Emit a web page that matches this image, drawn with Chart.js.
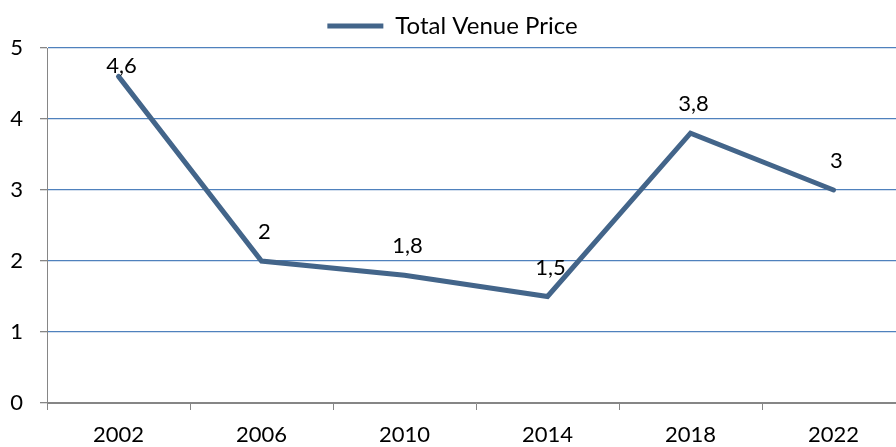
<!DOCTYPE html>
<html>
<head>
<meta charset="utf-8">
<script src="https://cdn.jsdelivr.net/npm/chart.js@4/dist/chart.umd.min.js"></script>
<style>
  html, body { margin: 0; padding: 0; background: #fff; overflow: hidden; }
  #wrap { width: 896px; height: 447px; overflow: hidden; }
</style>
</head>
<body>
<div id="wrap"><canvas id="venueChart" width="905" height="447"></canvas></div>
<script>
// Dữ liệu
const years = ['2002', '2006', '2010', '2014', '2018', '2022'];
const venuePrice = [4.6, 2, 1.8, 1.5, 3.8, 3];
const yTicks = [0, 1, 2, 3, 4, 5];

const lineColor = '#43658A';
const gridBlue = '#4F81BD';
const axisGray = '#868686';
const fontFamily = 'Lato, "Open Sans", sans-serif';

// nhãn giá trị kiểu "4,6"
const valueLabels = {
    id: 'valueLabels',
    afterDatasetsDraw(chart) {
        const ctx = chart.ctx;
        const meta = chart.getDatasetMeta(0);
        const top = chart.chartArea.top;
        ctx.save();
        ctx.font = '22px ' + fontFamily;
        ctx.fillStyle = '#000';
        ctx.textAlign = 'center';
        ctx.textBaseline = 'middle';
        meta.data.forEach((pt, i) => {
            const txt = String(venuePrice[i]).replace('.', ',');
            const y = Math.max(pt.y - 29, top + 18);
            ctx.fillText(txt, pt.x + 3, y);
        });
        ctx.restore();
    }
};

const chartData = {
    type: 'line',
    data: {
        labels: years,
        datasets: [{
            label: 'Total Venue Price',
            data: venuePrice,
            borderColor: lineColor,
            backgroundColor: lineColor,
            borderWidth: 5,
            borderCapStyle: 'round',
            borderJoinStyle: 'miter',
            pointRadius: 0,
            pointStyle: 'line',
            tension: 0
        }]
    },
    options: {
        responsive: false,
        animation: false,
        layout: { padding: { top: 5, right: 0, left: 0, bottom: 0 } },
        plugins: {
            legend: {
                position: 'top',
                labels: {
                    usePointStyle: true,
                    pointStyleWidth: 56,
                    color: '#000',
                    font: { family: fontFamily, size: 24 },
                    padding: 9
                }
            },
            tooltip: { enabled: false }
        },
        scales: {
            x: {
                offset: true,
                grid: {
                    offset: true,
                    drawOnChartArea: false,
                    drawTicks: true,
                    tickLength: 7,
                    tickColor: axisGray
                },
                border: { color: axisGray, width: 1 },
                ticks: {
                    color: '#000',
                    font: { family: fontFamily, size: 22 },
                    padding: 12,
                    maxRotation: 0
                },
                afterFit(scale) { scale.height = 44; }
            },
            y: {
                min: 0,
                max: 5,
                afterBuildTicks(scale) { scale.ticks = yTicks.map(v => ({ value: v })); },
                grid: {
                    color: c => (c.tick && c.tick.value === 0) ? axisGray : gridBlue,
                    lineWidth: 1.3,
                    tickLength: 7,
                    tickColor: axisGray
                },
                border: { color: axisGray, width: 1 },
                ticks: {
                    color: '#000',
                    font: { family: fontFamily, size: 22 },
                    padding: 17
                },
                afterFit(scale) { scale.width = 47; }
            }
        }
    },
    plugins: [valueLabels]
};

window.onload = function() {
    const ctx = document.getElementById('venueChart').getContext('2d');
    new Chart(ctx, chartData);
};
</script>
</body>
</html>
